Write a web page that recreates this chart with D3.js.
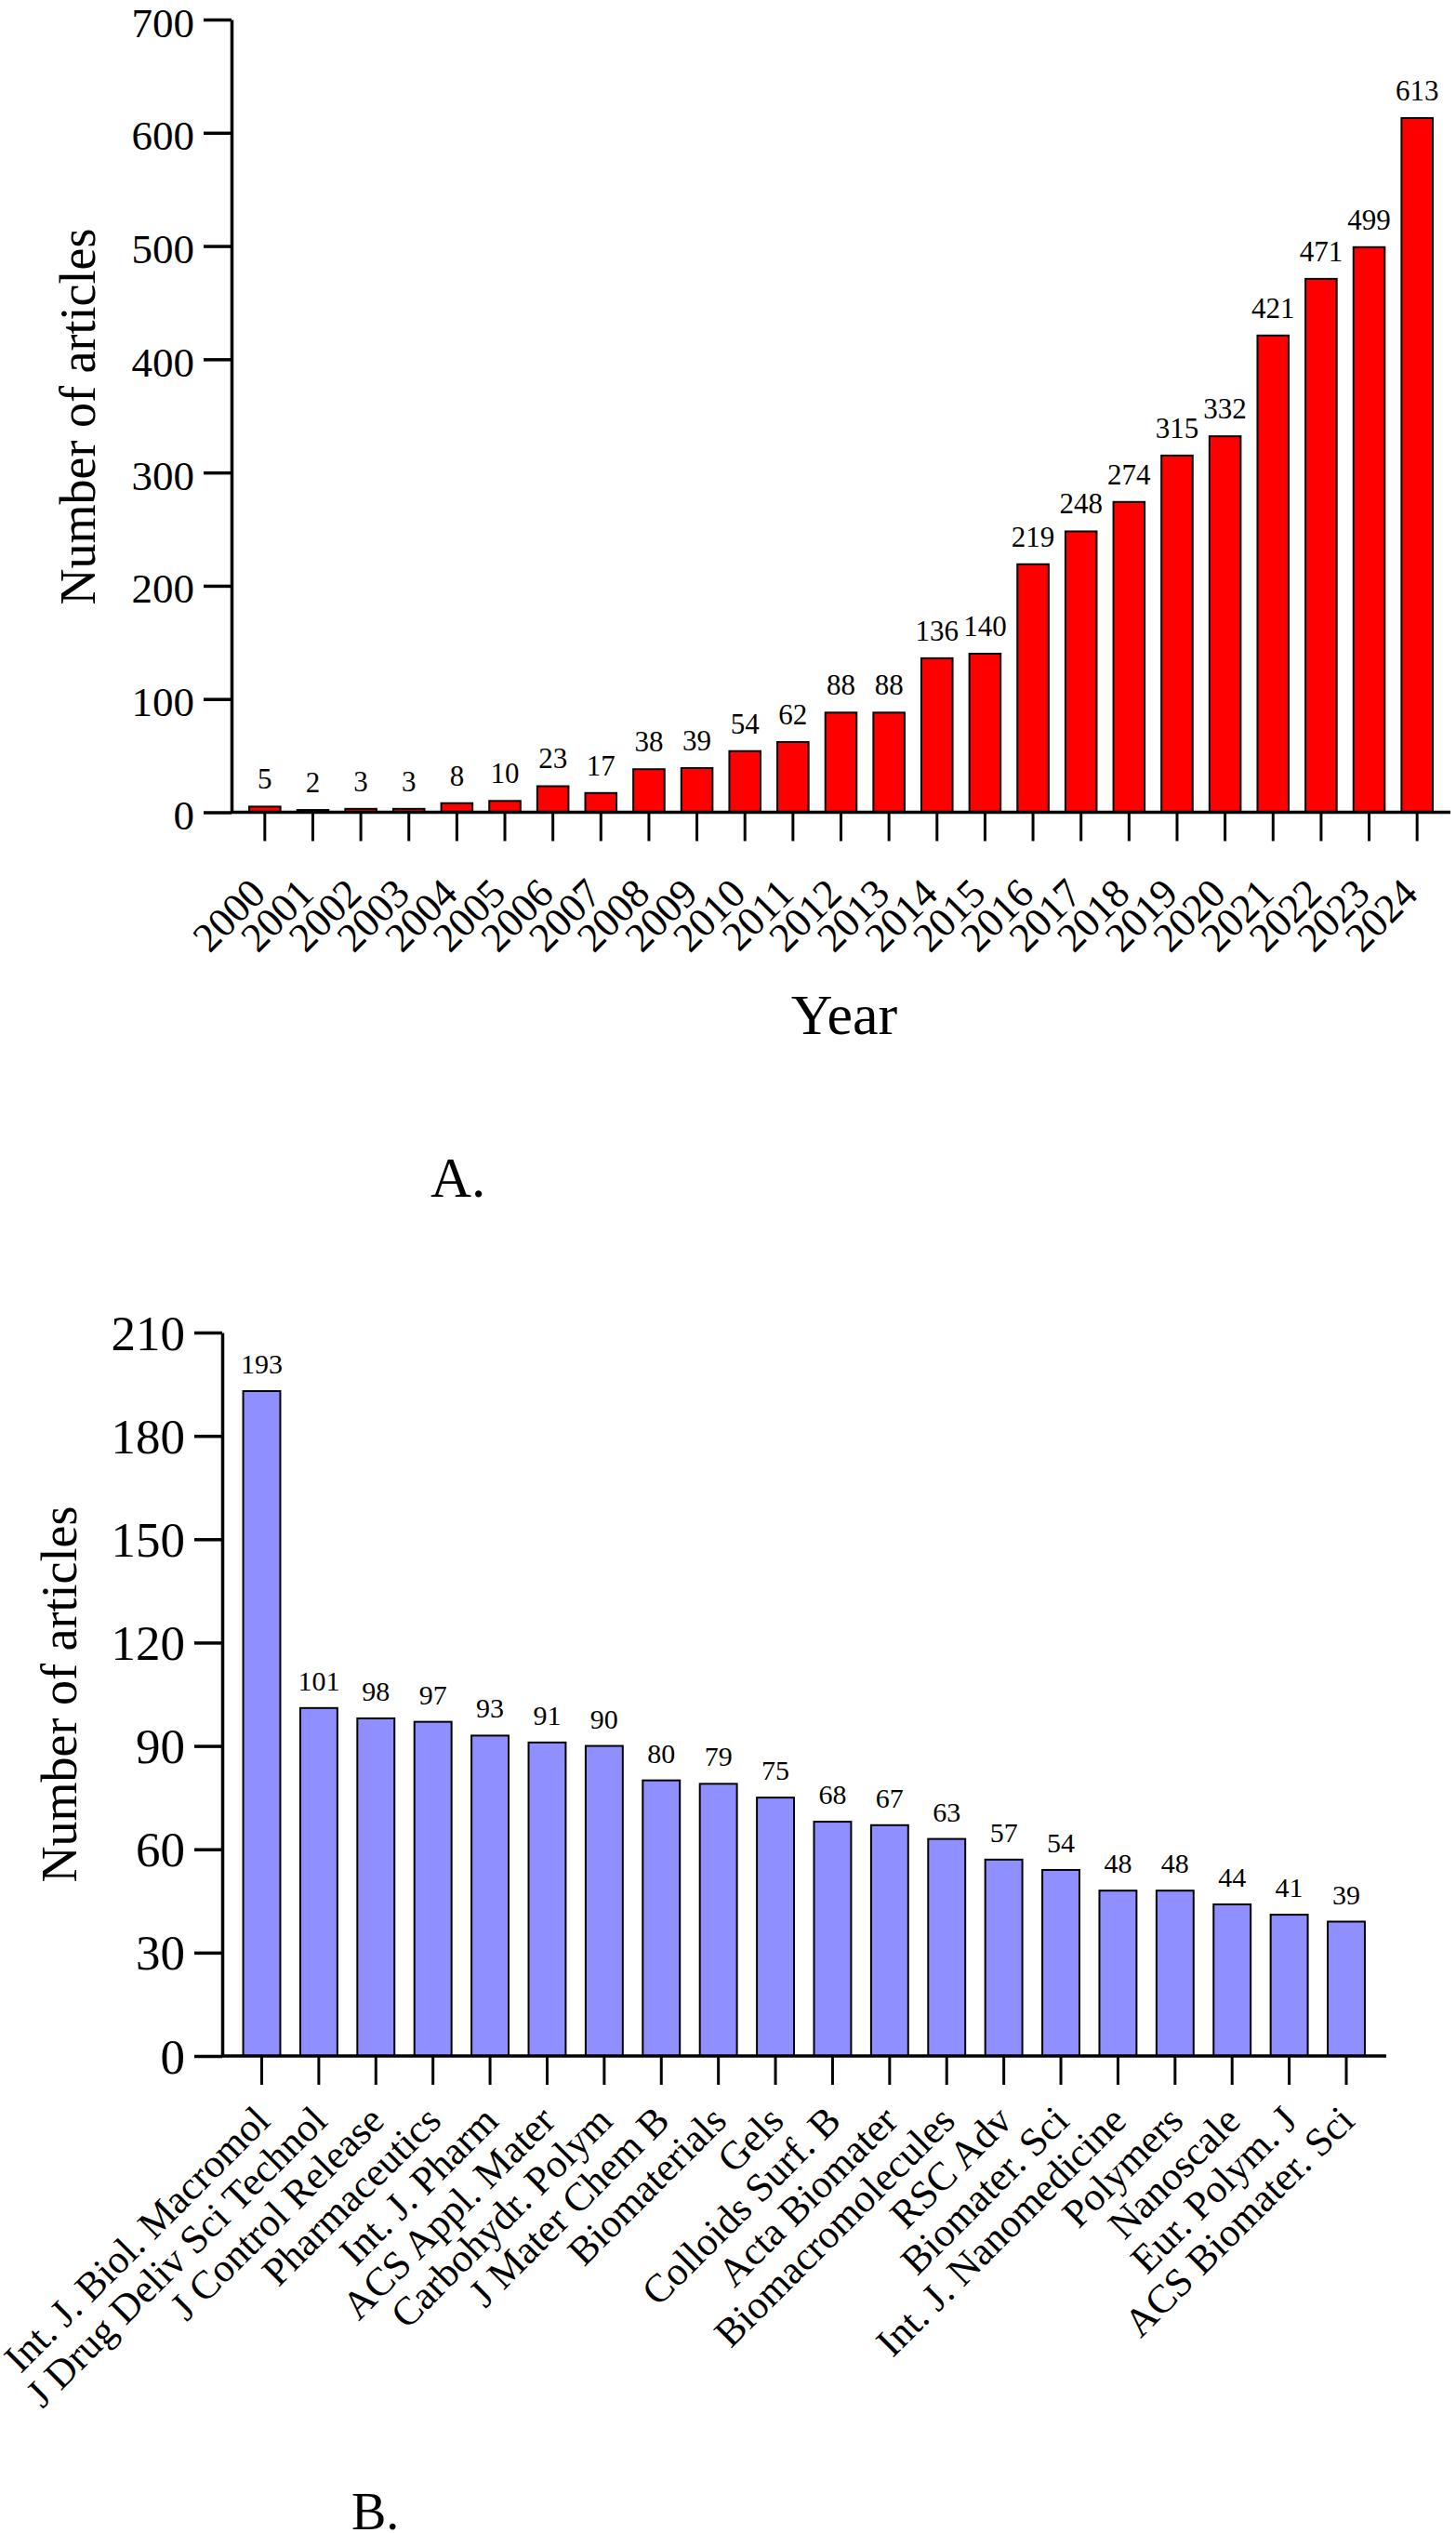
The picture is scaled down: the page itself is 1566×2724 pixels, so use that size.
<!DOCTYPE html>
<html>
<head>
<meta charset="utf-8">
<script src="https://cdn.jsdelivr.net/npm/d3@7"></script>
<style>
  body { margin: 0; background: #fff; }
  svg text { font-family: "Liberation Serif", "Times New Roman", serif; fill: #000; }
</style>
</head>
<body>
<div id="chart"></div>
<script>
// data - panel A
var years = ["2000","2001","2002","2003","2004","2005","2006","2007","2008","2009","2010","2011",
  "2012","2013","2014","2015","2016","2017","2018","2019","2020","2021","2022","2023","2024"];
var yearCounts = [5,2,3,3,8,10,23,17,38,39,54,62,88,88,136,140,219,248,274,315,332,421,471,499,613];
var yearTicks = [0,100,200,300,400,500,600,700];

// data - panel B
var journals = ["Int. J. Biol. Macromol","J Drug Deliv Sci Technol","J Control Release","Pharmaceutics",
  "Int. J. Pharm","ACS Appl. Mater","Carbohydr. Polym","J Mater Chem B","Biomaterials","Gels",
  "Colloids Surf. B","Acta Biomater","Biomacromolecules","RSC Adv","Biomater. Sci",
  "Int. J. Nanomedicine","Polymers","Nanoscale","Eur. Polym. J","ACS Biomater. Sci"];
var journalCounts = [193,101,98,97,93,91,90,80,79,75,68,67,63,57,54,48,48,44,41,39];
var journalTicks = [0,30,60,90,120,150,180,210];

var serif = "'Liberation Serif', 'Times New Roman', serif";

var svg = d3.select("#chart").append("svg")
  .attr("width", 1566)
  .attr("height", 2724);

svg.append("rect").attr("width", 1566).attr("height", 2724).attr("fill", "#fff");

function drawPanel(opt) {
  var g = svg.append("g");

  var x = d3.scaleBand()
    .domain(opt.cats)
    .range(opt.xRange)
    .paddingInner(0.35)
    .paddingOuter(0.175);

  var y = d3.scaleLinear()
    .domain([0, opt.yMax])
    .range(opt.yRange);

  var data = opt.cats.map(function(c, i) { return {cat: c, val: opt.vals[i]}; });

  // bars
  g.selectAll(".bar")
    .data(data)
    .enter()
    .append("rect")
    .attr("class", "bar")
    .attr("x", d => x(d.cat))
    .attr("width", x.bandwidth())
    .attr("y", d => y(d.val))
    .attr("height", d => y(0) - y(d.val))
    .attr("fill", opt.color)
    .attr("stroke", "#000")
    .attr("stroke-width", 2);

  // value labels
  g.selectAll(".val")
    .data(data)
    .enter()
    .append("text")
    .attr("class", "val")
    .attr("x", d => x(d.cat) + x.bandwidth() / 2)
    .attr("y", d => y(d.val) - 19)
    .attr("text-anchor", "middle")
    .style("font-size", opt.valFont + "px")
    .text(d => d.val);

  // y axis
  var leftAxis = d3.axisLeft(y)
    .tickValues(opt.ticks)
    .tickSize(30)
    .tickSizeOuter(0)
    .tickPadding(10);

  var ya = g.append("g")
    .attr("transform", `translate(${opt.axisX},0)`)
    .call(leftAxis)
    .attr("font-family", serif);
  ya.select(".domain").attr("stroke-width", 3.5);
  ya.selectAll(".tick line").attr("stroke-width", 3.5);
  ya.selectAll(".tick text")
    .attr("dy", opt.tickDy)
    .style("font-family", serif)
    .style("font-size", opt.tickFont + "px")
    .attr("fill", "#000");

  // x axis
  var bottomAxis = d3.axisBottom(x)
    .tickSize(31)
    .tickSizeOuter(0);

  var xa = g.append("g")
    .attr("transform", `translate(0,${y(0)})`)
    .call(bottomAxis)
    .attr("font-family", serif);
  xa.select(".domain").remove();
  xa.append("line")
    .attr("x1", opt.axisX)
    .attr("x2", opt.axisEnd)
    .attr("stroke", "#000")
    .attr("stroke-width", 3.5);
  xa.selectAll(".tick line").attr("stroke-width", 3);
  xa.selectAll(".tick text")
    .attr("x", 0)
    .attr("y", 0)
    .attr("dy", 0)
    .attr("transform", opt.labelShift + " rotate(-45)")
    .style("text-anchor", "end")
    .style("font-family", serif)
    .style("font-size", opt.catFont + "px")
    .attr("fill", "#000");

  // y axis title
  g.append("text")
    .attr("transform", `translate(${opt.yTitle[0]},${opt.yTitle[1]}) rotate(-90)`)
    .attr("text-anchor", "middle")
    .style("font-size", "54px")
    .text("Number of articles");

  return g;
}

var gA = drawPanel({
  cats: years, vals: yearCounts, ticks: yearTicks, yMax: 700,
  xRange: [259, 1550], yRange: [873.5, 21],
  axisX: 249, axisEnd: 1560,
  color: "#ff0000",
  valFont: 31, tickFont: 45, tickDy: "0.4em", catFont: 44,
  labelShift: "translate(3,90)",
  yTitle: [102, 448]
});

gA.append("text")
  .attr("x", 908)
  .attr("y", 1112)
  .attr("text-anchor", "middle")
  .style("font-size", "62px")
  .text("Year");

gA.append("text")
  .attr("x", 463)
  .attr("y", 1287)
  .style("font-size", "61px")
  .text("A.");

var gB = drawPanel({
  cats: journals, vals: journalCounts, ticks: journalTicks, yMax: 210,
  xRange: [250.8, 1478.7], yRange: [2211, 1433],
  axisX: 239, axisEnd: 1491,
  color: "#8f8fff",
  valFont: 30, tickFont: 53, tickDy: "0.34em", catFont: 43,
  labelShift: "translate(11,72)",
  yTitle: [82, 1822]
});

gB.append("text")
  .attr("x", 378)
  .attr("y", 2720)
  .style("font-size", "56px")
  .text("B.");
</script>
</body>
</html>
